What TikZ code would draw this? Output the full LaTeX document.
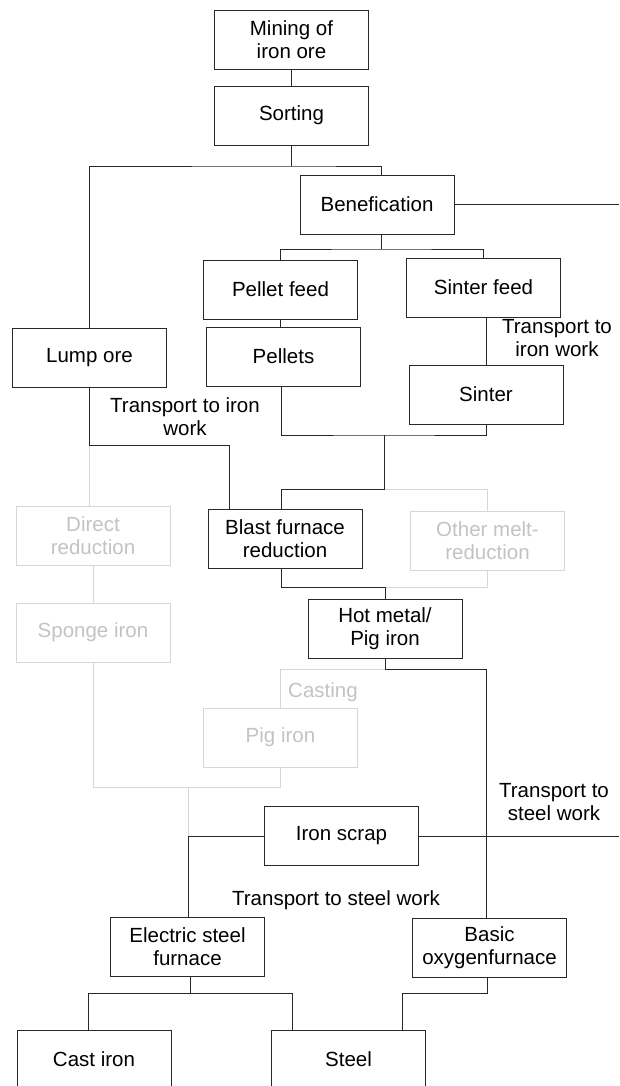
\documentclass[tikz,border=0pt]{standalone}
\usepackage{fontspec}
\setmainfont{Liberation Sans}
\usepackage{tikz}
\usetikzlibrary{positioning, calc}
\definecolor{mydark}{RGB}{40,40,40}
\definecolor{mygrey}{RGB}{215,215,215}
\definecolor{mygreytext}{RGB}{195,195,195}
\tikzset{
  box/.style={rectangle, draw=mydark, fill=white,
    minimum width=154pt, minimum height=59pt, align=center,
    inner sep=2pt, line width=0.9pt,
    font=\fontsize{20.5}{23}\selectfont},
  greybox/.style={box, draw=mygrey, text=mygreytext},
  line/.style={line width=0.9pt, color=mydark},
  gline/.style={line width=0.9pt, color=mygrey},
  lbl/.style={align=center, inner sep=0pt, font=\fontsize{20.5}{23}\selectfont}
}

\begin{document}
\begin{tikzpicture}[x=1pt, y=-1pt]
  \useasboundingbox (0,0) rectangle (619,1086);
  \clip (0,0) rectangle (619,1086);
  \coordinate (redge) at (619,0);
  % grey (unused) routes first
  \node[greybox] (direct) at (93,535.5) {Direct\\reduction};
  \node[greybox] (sponge) at (93,632.5) {Sponge iron};
  \node[greybox] (other) at (487.5,540.5) {Other melt-\\reduction};
  \node[greybox] (pig) at (280.5,737.5) {Pig iron};
  \node[lbl, text=mygreytext, anchor=west] (cast) at (288,692) {Casting};
  % main chain
  \node[box] (mine) at (291.5,39.5) {Mining of\\iron ore};
  \node[box] (sort) at (291.5,115.5) {Sorting};
  \node[box] (benef) at (377,204.5) {Benefication};
  \node[box] (pfeed) at (280.5,289.5) {Pellet feed};
  \node[box] (sfeed) at (483.5,287.5) {Sinter feed};
  \node[box] (lump) at (89.5,357.5) {Lump ore};
  \node[box] (pellets) at (283.5,356.5) {Pellets};
  \node[box] (sinter) at (486,394.5) {Sinter};
  \node[box] (blast) at (285,539) {Blast furnace\\reduction};
  \node[box] (hot) at (385,628.5) {Hot metal/\\Pig iron};
  \node[box] (scrap) at (341.5,836) {Iron scrap};
  \node[box] (elec) at (187.5,947) {Electric steel\\furnace};
  \node[box] (basic) at (489.5,948) {Basic\\oxygenfurnace};
  \node[box] (castiron) at (94,1059.5) {Cast iron};
  \node[box] (steel) at (348.5,1059.5) {Steel};
  % labels
  \node[lbl] (tiw1) at (557,338) {Transport to\\iron work};
  \node[lbl] (tiw2) at (185,417) {Transport to iron\\work};
  \node[lbl] (tsw1) at (554,802) {Transport to\\steel work};
  \node[lbl] (tsw2) at (336,900) {Transport to steel work};
  % junctions
  \coordinate (s1) at (291.5,166);
  \coordinate (b1) at (381,249);
  \coordinate (p1) at (384,435);
  \coordinate (p2) at (384,489);
  \coordinate (l1) at (89.5,445);
  \coordinate (h1) at (385,587);
  \coordinate (h2) at (385,669);
  \coordinate (h3) at (486,669);
  \coordinate (g1) at (188,787);
  \coordinate (e1) at (188,836);
  \coordinate (c1) at (190,993);
  \coordinate (c2) at (487,993);
  % grey connectors
  \draw[gline] (l1) -- (l1 |- direct.north);
  \draw[gline] (direct) -- (sponge);
  \draw[gline] (p2) -| (other.north);
  \draw[gline] (h1) -| (other.south);
  \draw[gline] (h2) -| (pig.north);
  \draw[gline] (sponge.south) |- (g1);
  \draw[gline] (pig.south) |- (g1);
  \draw[gline] (g1) -- (e1);
  % black connectors
  \draw[line] (mine) -- (sort);
  \draw[line] (sort) -- (s1);
  \draw[line] (lump.north) |- (s1) -| ([xshift=4pt]benef.north);
  \draw[line] (benef.east) -- (benef.east -| redge);
  \draw[line] ([xshift=4pt]benef.south) -- (b1);
  \draw[line] (pfeed.north) |- (b1) -| (sfeed.north);
  \draw[line] (pfeed.south) -- (pfeed.south |- pellets.north);
  \draw[line] (sinter.north) -- (sinter.north |- sfeed.south);
  \draw[line] ([xshift=-2pt]pellets.south) |- (p1) -| (sinter.south);
  \draw[line] (p1) -- (p2) -| ([xshift=-4pt]blast.north);
  \draw[line] (lump.south) -- (l1) -| ([xshift=22pt]blast.north west);
  \draw[line] ([xshift=-4pt]blast.south) |- (h1) -- (hot.north);
  \draw[line] (hot.south) -- (h2) -- (h3) -- (h3 |- basic.north);
  \draw[line] (scrap.west) -- (e1) -- (e1 |- elec.north);
  \draw[line] (scrap.east) -- (scrap.east -| redge);
  \draw[line] (elec.south -| c1) -- (c1);
  \draw[line] ([xshift=-6pt]castiron.north) |- (c1) -| ([xshift=21pt]steel.north west);
  \draw[line] (basic.south -| c2) -- (c2) -| ([xshift=-24pt]steel.north east);
\end{tikzpicture}
\end{document}
